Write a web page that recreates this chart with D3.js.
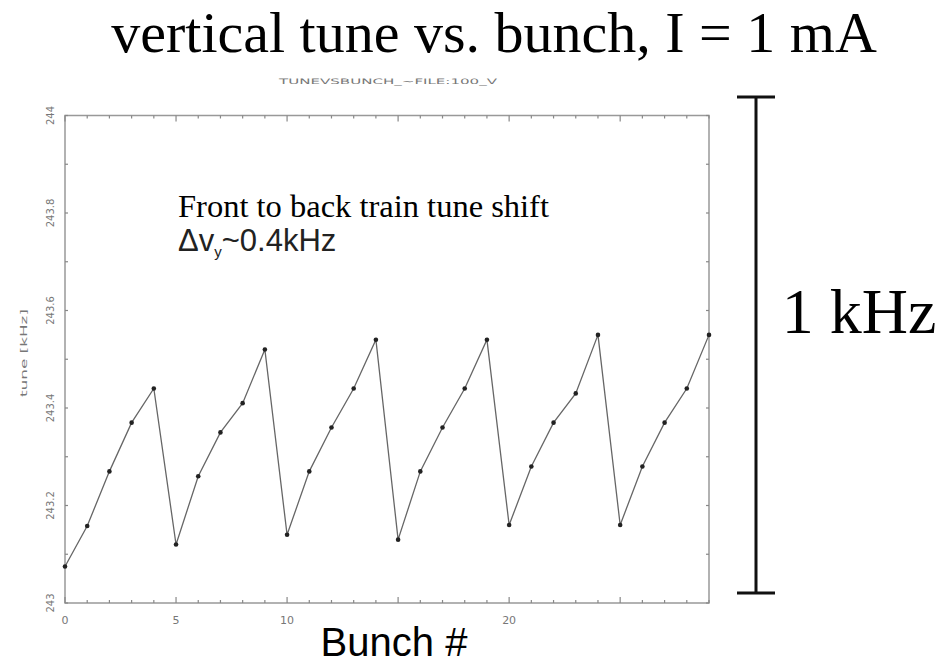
<!DOCTYPE html>
<html>
<head>
<meta charset="utf-8">
<script src="https://cdn.jsdelivr.net/npm/d3@7"></script>
<style>
  body { margin: 0; background: #fff; }
  svg { display: block; }
</style>
</head>
<body>
<svg id="chart"></svg>
<script>
// bunch number and vertical tune (kHz)
var bunches = d3.range(0, 30);
var tunes = [243.075, 243.158, 243.27, 243.37, 243.44,
             243.12, 243.26, 243.35, 243.41, 243.52,
             243.14, 243.27, 243.36, 243.44, 243.54,
             243.13, 243.27, 243.36, 243.44, 243.54,
             243.16, 243.28, 243.37, 243.43, 243.55,
             243.16, 243.28, 243.37, 243.44, 243.55];
var xLabelTicks = [0, 5, 10, 20];
var yLabelTicks = [243, 243.2, 243.4, 243.6, 243.8, 244];

var data = bunches.map(function(b, i) { return {bunch: b, tune: tunes[i]}; });

var W = 942, H = 664;
var svg = d3.select("#chart").attr("width", W).attr("height", H);

var plot = {left: 65, right: 709, top: 115.5, bottom: 603};

var x = d3.scaleLinear().domain([0, 29]).range([plot.left, plot.right]);
var y = d3.scaleLinear().domain([243, 244]).range([plot.bottom, plot.top]);

// main title
svg.append("text")
   .attr("x", 494).attr("y", 52)
   .attr("text-anchor", "middle")
   .style("font-family", "Liberation Serif, serif")
   .style("font-size", "58px")
   .text("vertical tune vs. bunch, I = 1 mA");

// small file label
svg.append("text")
   .attr("x", 279).attr("y", 84)
   .attr("textLength", 218)
   .attr("lengthAdjust", "spacingAndGlyphs")
   .style("font-family", "DejaVu Sans, sans-serif")
   .style("font-size", "7.5px")
   .style("fill", "#777")
   .text("TUNEVSBUNCH_~FILE:100_V");

// frame
svg.append("rect")
   .attr("x", plot.left).attr("y", plot.top)
   .attr("width", plot.right - plot.left).attr("height", plot.bottom - plot.top)
   .attr("fill", "none")
   .attr("stroke", "#999")
   .attr("stroke-width", 1.5);

// inward ticks, minor on each bunch and 0.1 kHz
var minorX = d3.range(0, 30), minorY = d3.range(0, 11).map(function(i) { return 243 + i * 0.1; });
var tickG = svg.append("g").attr("stroke", "#888").attr("stroke-width", 1.2);
minorX.forEach(function(v) {
    var len = v % 5 === 0 ? 6 : 3;
    tickG.append("line").attr("x1", x(v)).attr("x2", x(v)).attr("y1", plot.bottom).attr("y2", plot.bottom - len);
    tickG.append("line").attr("x1", x(v)).attr("x2", x(v)).attr("y1", plot.top).attr("y2", plot.top + len);
});
minorY.forEach(function(v) {
    tickG.append("line").attr("x1", plot.left).attr("x2", plot.left + 3).attr("y1", y(v)).attr("y2", y(v));
    tickG.append("line").attr("x1", plot.right).attr("x2", plot.right - 3).attr("y1", y(v)).attr("y2", y(v));
});

// x tick labels
svg.append("g").selectAll("text")
   .data(xLabelTicks)
   .enter().append("text")
   .attr("x", function(d) { return x(d); })
   .attr("y", 624)
   .attr("text-anchor", "middle")
   .style("font-family", "DejaVu Sans, sans-serif")
   .style("font-size", "11px")
   .style("fill", "#777")
   .text(function(d) { return d; });

// y tick labels, rotated
svg.append("g").selectAll("text")
   .data(yLabelTicks)
   .enter().append("text")
   .attr("transform", function(d) { return "translate(54," + y(d) + ") rotate(-90)"; })
   .attr("text-anchor", "middle")
   .style("font-family", "DejaVu Sans, sans-serif")
   .style("font-size", "10px")
   .style("fill", "#777")
   .text(function(d) { return d === 243 || d === 244 ? d : d.toFixed(1); });

// y axis title
svg.append("text")
   .attr("transform", "translate(27,353) rotate(-90)")
   .attr("text-anchor", "middle")
   .attr("textLength", 88)
   .attr("lengthAdjust", "spacingAndGlyphs")
   .style("font-family", "DejaVu Sans, sans-serif")
   .style("font-size", "9.5px")
   .style("fill", "#777")
   .text("tune [kHz]");

// data line and points
var line = d3.line()
             .x(function(d) { return x(d.bunch); })
             .y(function(d) { return y(d.tune); });

svg.append("path")
   .datum(data)
   .attr("d", line)
   .attr("fill", "none")
   .attr("stroke", "#666")
   .attr("stroke-width", 1.3);

svg.selectAll("circle.pt")
   .data(data)
   .enter().append("circle")
   .attr("class", "pt")
   .attr("r", 2.3)
   .attr("cx", function(d) { return x(d.bunch); })
   .attr("cy", function(d) { return y(d.tune); })
   .attr("fill", "#222");

// annotation
svg.append("text")
   .attr("x", 178).attr("y", 217)
   .style("font-family", "Liberation Serif, serif")
   .style("font-size", "32.5px")
   .text("Front to back train tune shift");

var ann = svg.append("text")
   .attr("x", 178).attr("y", 251)
   .style("font-family", "Liberation Sans, Arial, sans-serif")
   .style("font-size", "31px")
   .style("fill", "#222");
ann.append("tspan").text("\u0394v");
ann.append("tspan").attr("dy", 6).style("font-size", "15px").text("y");
ann.append("tspan").attr("dy", -6).text("~0.4kHz");

// x axis title
svg.append("text")
   .attr("x", 394).attr("y", 656)
   .attr("text-anchor", "middle")
   .style("font-family", "Liberation Sans, Arial, sans-serif")
   .style("font-size", "40px")
   .text("Bunch #");

// 1 kHz scale bar
var bar = svg.append("g").attr("stroke", "#111").attr("stroke-width", 3);
bar.append("line").attr("x1", 756).attr("x2", 756).attr("y1", 97).attr("y2", 593);
bar.append("line").attr("x1", 737).attr("x2", 775).attr("y1", 97).attr("y2", 97);
bar.append("line").attr("x1", 737).attr("x2", 775).attr("y1", 593).attr("y2", 593);

svg.append("text")
   .attr("x", 859).attr("y", 333)
   .attr("text-anchor", "middle")
   .style("font-family", "Liberation Serif, serif")
   .style("font-size", "64px")
   .text("1 kHz");
</script>
</body>
</html>
